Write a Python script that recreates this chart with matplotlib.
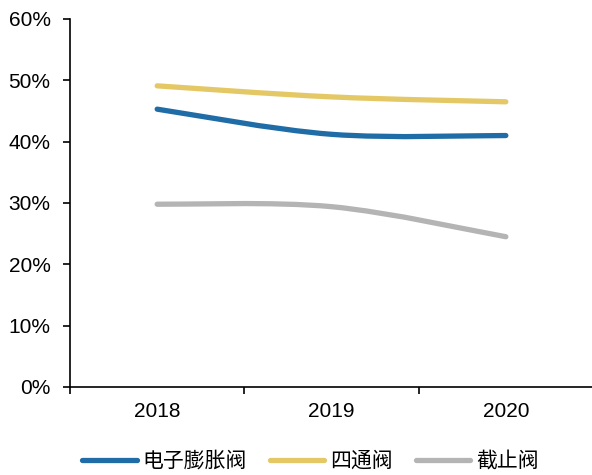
import numpy as np
import matplotlib.pyplot as plt
from matplotlib.path import Path
from matplotlib.patches import PathPatch
from matplotlib.lines import Line2D
from matplotlib.ticker import FixedLocator, PercentFormatter

plt.rcParams['font.family'] = ['Liberation Sans', 'Noto Sans CJK SC', 'DejaVu Sans']

years = ['2018', '2019', '2020']
eev = [45.3, 41.2, 41.0]        # 电子膨胀阀
four_way = [49.1, 47.3, 46.5]   # 四通阀
stop_valve = [29.8, 29.4, 24.5] # 截止阀

series = [
    ('电子膨胀阀', eev, '#1f6ca6'),
    ('四通阀', four_way, '#e5c866'),
    ('截止阀', stop_valve, '#b4b4b4'),
]


def smooth_path(xs, ys):
    # cubic bezier through the points, catmull-rom style tangents
    pts = np.column_stack([xs, ys]).astype(float)
    ext = np.vstack([pts[0], pts, pts[-1]])
    verts = [pts[0]]
    codes = [Path.MOVETO]
    for i in range(1, len(ext) - 2):
        p0, p1, p2, p3 = ext[i - 1], ext[i], ext[i + 1], ext[i + 2]
        verts += [p1 + (p2 - p0) / 6, p2 - (p3 - p1) / 6, p2]
        codes += [Path.CURVE4] * 3
    return Path(verts, codes)


fig = plt.figure(figsize=(5.92, 4.75), dpi=100)
ax = fig.add_axes([70 / 592, 1 - 387 / 475, 523 / 592, 368 / 475])

x = np.arange(len(years))
handles = []
for name, vals, color in series:
    patch = PathPatch(smooth_path(x, vals), facecolor='none', edgecolor=color,
                      lw=3.8, capstyle='round', joinstyle='round')
    ax.add_patch(patch)
    handles.append(Line2D([], [], color=color, lw=3.8, solid_capstyle='round', label=name))

ax.set_xlim(-0.5, 2.5)
ax.set_ylim(0, 60)
ax.yaxis.set_major_locator(FixedLocator(np.arange(0, 61, 10)))
ax.yaxis.set_major_formatter(PercentFormatter(decimals=0))

ax.set_xticks(x)
ax.set_xticklabels(years)
ax.set_xticks([-0.5, 0.5, 1.5], minor=True)
ax.tick_params(axis='x', which='major', length=0, pad=11, labelsize=15)
ax.tick_params(axis='x', which='minor', length=5, width=1.2, direction='out')
ax.tick_params(axis='y', length=5, width=1.2, direction='out', pad=9, labelsize=15)

for s in ['top', 'right']:
    ax.spines[s].set_visible(False)
for s in ['left', 'bottom']:
    ax.spines[s].set_linewidth(1.2)
    ax.spines[s].set_color('black')

fig.legend(handles=handles, loc='center', bbox_to_anchor=(0.525, 1 - 461 / 475),
           ncol=3, frameon=False, handlelength=2.6, handletextpad=0.3,
           columnspacing=1.1, prop={'family': ['Noto Sans CJK SC'], 'size': 15})

fig.savefig('out.png', dpi=100)
